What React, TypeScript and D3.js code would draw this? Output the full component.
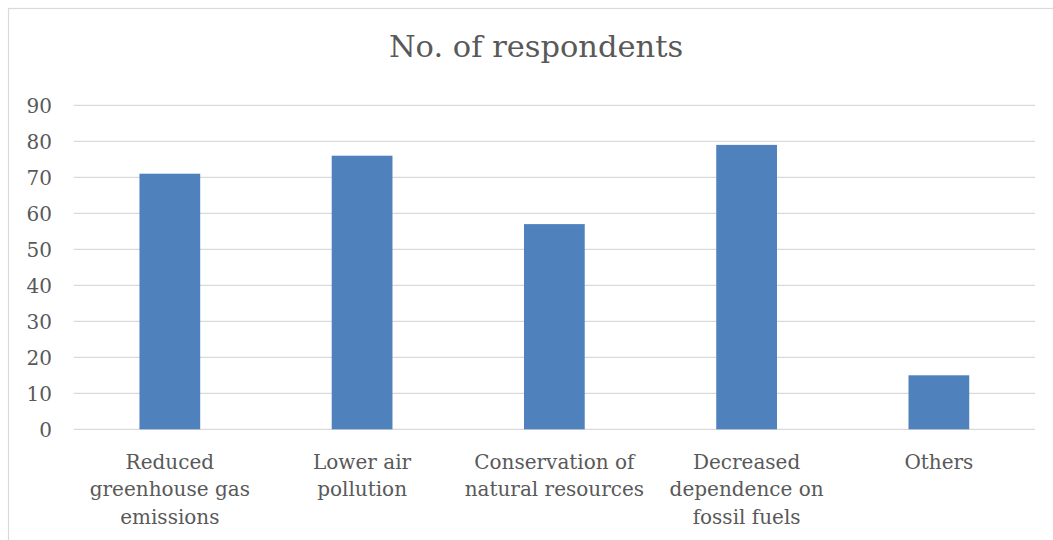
import React from "react";
import * as d3 from "d3";

const title = "No. of respondents";
const categories = [
  "Reduced greenhouse gas emissions",
  "Lower air pollution",
  "Conservation of natural resources",
  "Decreased dependence on fossil fuels",
  "Others",
];
const categoryLines = [
  ["Reduced", "greenhouse gas", "emissions"],
  ["Lower air", "pollution"],
  ["Conservation of", "natural resources"],
  ["Decreased", "dependence on", "fossil fuels"],
  ["Others"],
];
const values = [71, 76, 57, 79, 15];
const yTicks = [0, 10, 20, 30, 40, 50, 60, 70, 80, 90];

const W = 1053;
const H = 540;
const plotLeft = 73.7;
const plotRight = 1035;
const plotTop = 105.3;
const plotBottom = 429.3;
const FONT = "'DejaVu Serif', serif";
const TEXT = "#595959";

export default function App() {
  const x = d3
    .scaleBand<string>()
    .domain(categories)
    .range([plotLeft, plotRight])
    .paddingInner(0.684)
    .paddingOuter(0.342);
  const y = d3.scaleLinear().domain([0, 90]).range([plotBottom, plotTop]);

  return (
    <svg
      width={W}
      height={H}
      style={{ position: "absolute", left: 0, top: 0, display: "block", background: "#fff" }}
    >
      <rect x={8.5} y={8.5} width={1200} height={700} fill="#fff" stroke="#D9D9D9" strokeWidth={1.2} />
      <text x={536} y={56.7} textAnchor="middle" fontFamily={FONT} fontSize={30.5} fill={TEXT}>
        {title}
      </text>
      {yTicks.map((t) => (
        <g key={t}>
          <line x1={plotLeft} x2={plotRight} y1={y(t)} y2={y(t)} stroke="#D9D9D9" strokeWidth={1.3} />
          <text x={52} y={y(t)} dy="0.36em" textAnchor="end" fontFamily={FONT} fontSize={20} fill={TEXT}>
            {t}
          </text>
        </g>
      ))}
      {categories.map((c, i) => (
        <rect key={c} x={x(c)} y={y(values[i])} width={x.bandwidth()} height={y(0) - y(values[i])} fill="#4F81BD" />
      ))}
      {categories.map((c, i) => (
        <text key={c} textAnchor="middle" fontFamily={FONT} fontSize={20} fill={TEXT}>
          {categoryLines[i].map((ln, j) => (
            <tspan key={j} x={(x(c) as number) + x.bandwidth() / 2} y={468.5 + j * 27.8}>
              {ln}
            </tspan>
          ))}
        </text>
      ))}
    </svg>
  );
}
